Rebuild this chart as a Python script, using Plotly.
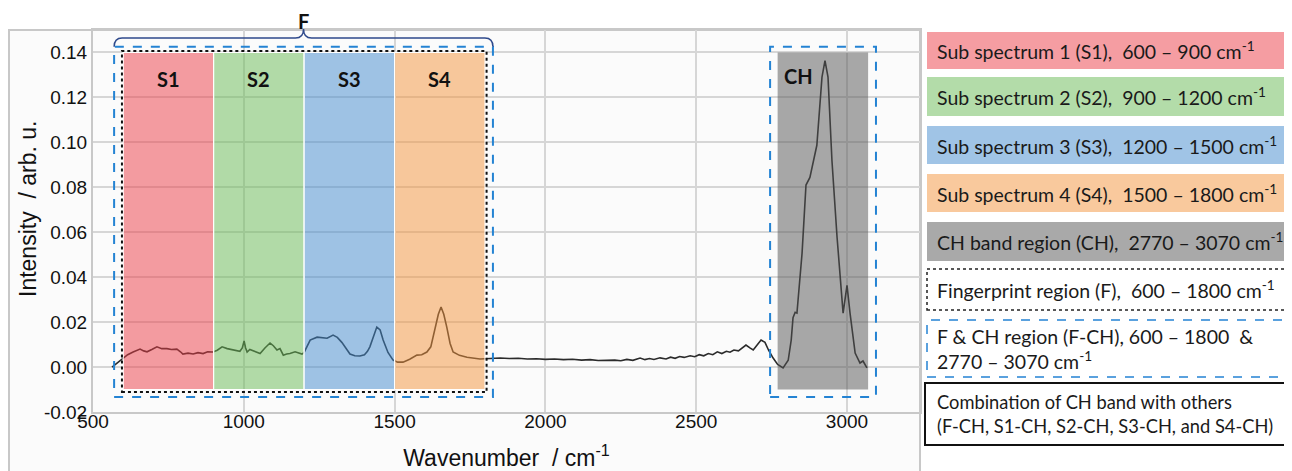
import plotly.graph_objects as go

# ---------------- data ----------------
wavenumber = [563, 573, 585, 600, 615, 633, 645, 656, 668, 679,
              695, 712, 728, 745, 760, 778, 790, 798, 815, 832,
              848, 865, 880, 898, 912, 928, 945, 964, 987, 995,
              1001, 1006, 1011, 1020, 1031, 1042, 1054, 1070, 1087, 1098,
              1110, 1120, 1131, 1142, 1153, 1170, 1193, 1200, 1210, 1220,
              1243, 1260, 1276, 1296, 1310, 1325, 1340, 1352, 1368, 1385,
              1400, 1410, 1418, 1430, 1441, 1452, 1462, 1478, 1495, 1510,
              1528, 1550, 1574, 1590, 1607, 1620, 1634, 1645, 1654, 1663,
              1673, 1684, 1694, 1715, 1740, 1760, 1783, 1800, 1826,
              1850, 1880, 1910, 1940, 1970, 2000, 2030, 2060, 2090, 2120,
              2148, 2175, 2204, 2230, 2250, 2270, 2290, 2314, 2330, 2345,
              2360, 2380, 2400, 2415, 2430, 2445, 2460, 2480, 2495, 2510,
              2525, 2540, 2555, 2570, 2585, 2600, 2612, 2625, 2640, 2652,
              2665, 2678, 2689, 2700, 2715, 2728,
              2740, 2755, 2770, 2788, 2805, 2815, 2821, 2828, 2834, 2851,
              2864, 2877, 2900, 2917, 2927, 2937, 2950, 2967, 2987, 3000,
              3010, 3027, 3043, 3053, 3066]
intensity = [0.000, 0.001, 0.0025, 0.004, 0.0055, 0.0067, 0.0075, 0.008, 0.0072, 0.0068,
             0.0078, 0.009, 0.0082, 0.0082, 0.0078, 0.008, 0.0068, 0.0058, 0.0062, 0.0058,
             0.0064, 0.006, 0.0068, 0.0067, 0.0075, 0.009, 0.0082, 0.0078, 0.007, 0.0085,
             0.0116, 0.0085, 0.0067, 0.0078, 0.0072, 0.0065, 0.006, 0.0085, 0.0107, 0.0095,
             0.0076, 0.0082, 0.0053, 0.0058, 0.006, 0.0068, 0.0058, 0.0065, 0.0095, 0.012,
             0.0133, 0.013, 0.0128, 0.0142, 0.0132, 0.011, 0.0078, 0.0058, 0.005, 0.0049,
             0.0055, 0.007, 0.009, 0.0135, 0.0178, 0.0165, 0.012, 0.0065, 0.0031, 0.0022,
             0.0022, 0.0035, 0.0053, 0.0055, 0.0067, 0.009, 0.0164, 0.0235, 0.0267, 0.0235,
             0.0178, 0.0105, 0.0067, 0.0052, 0.0044, 0.004, 0.0036, 0.0037, 0.004,
             0.0040, 0.0038, 0.0039, 0.0036, 0.0037, 0.0034, 0.0036, 0.0033, 0.0035, 0.0031,
             0.0033, 0.0029, 0.0031, 0.0031, 0.0028, 0.0034, 0.0030, 0.0040, 0.0033, 0.0038,
             0.0034, 0.0041, 0.0036, 0.0044, 0.0039, 0.0047, 0.0043, 0.0050, 0.0046, 0.0055,
             0.0050, 0.0060, 0.0055, 0.0068, 0.0060, 0.0070, 0.0066, 0.0076, 0.0072, 0.0085,
             0.0098, 0.0085, 0.0076, 0.0095, 0.012, 0.011,
             0.0075, 0.004, 0.0012, -0.0004, 0.003, 0.012, 0.022, 0.0244, 0.024, 0.0507,
             0.081, 0.0844, 0.0987, 0.129, 0.1364, 0.129, 0.092, 0.0578, 0.024, 0.0364,
             0.024, 0.0062, 0.0018, 0.0027, -0.0004]

sub_names = ["S1", "S2", "S3", "S4"]
sub_starts = [600, 900, 1200, 1500]
sub_ends = [900, 1200, 1500, 1800]
ch_start, ch_end = 2770, 3070
fp_start, fp_end = 600, 1800
region_top, region_bottom = 0.14, -0.01

x_tickvals = [500, 1000, 1500, 2000, 2500, 3000]
y_tickvals = [-0.02, 0.00, 0.02, 0.04, 0.06, 0.08, 0.10, 0.12, 0.14]
y_ticktext = ["-0.02", "0.00", "0.02", "0.04", "0.06", "0.08", "0.10", "0.12", "0.14"]

legend_texts = [
    "Sub spectrum 1 (S1),\u00a0 600 – 900 cm<sup>-1</sup>",
    "Sub spectrum 2 (S2),\u00a0 900 – 1200 cm<sup>-1</sup>",
    "Sub spectrum 3 (S3),\u00a0 1200 – 1500 cm<sup>-1</sup>",
    "Sub spectrum 4 (S4),\u00a0 1500 – 1800 cm<sup>-1</sup>",
    "CH band region (CH),\u00a0 2770 – 3070 cm<sup>-1</sup>",
    "Fingerprint region (F),\u00a0 600 – 1800 cm<sup>-1</sup>",
    "F & CH region (F-CH), 600 – 1800 \u00a0&<br>2770 – 3070 cm<sup>-1</sup>",
    "Combination of CH band with others<br>(F-CH, S1-CH, S2-CH, S3-CH, and S4-CH)",
]

# ---------------- style ----------------
sub_fill = ["rgba(235,59,69,0.5)", "rgba(103,185,83,0.5)", "rgba(65,137,205,0.5)", "rgba(243,147,59,0.5)"]
ch_fill = "rgba(83,83,83,0.5)"
legend_fill = ["#f59da2", "#b3dca9", "#a0c4e6", "#f9c99d", "#a9a9a9", "white", "white", "white"]
legend_size = [19.5, 19.5, 19.5, 19.5, 19.5, 19.5, 19.5, 18.3]
blue = "#2483d3"

OFF = 8                          # browser body margin
W, H = 1292 - OFF, 471 - OFF
L, R, T, B = 93, 920, 30, 412    # plot area in reference pixels
XMIN, XMAX = 500, 3242
YMIN, YMAX = -0.02, 0.15


def px_x(p):
    return (p - L) / (R - L)


def px_y(p):
    return (B - p) / (B - T)


def dx(w):
    return (w - XMIN) / (XMAX - XMIN)


def dy(v):
    return (v - YMIN) / (YMAX - YMIN)


fig = go.Figure()
fig.add_trace(go.Scatter(x=wavenumber, y=intensity, mode="lines",
                         line=dict(color="#2b2b2b", width=1.6), showlegend=False, hoverinfo="skip"))

shapes = []
# outer frame of chart
shapes.append(dict(type="rect", xref="paper", yref="paper", x0=px_x(9), x1=1.0, y0=-0.4, y1=1.0,
                   line=dict(color="#c8c8c8", width=2), fillcolor="#fbfbfb", layer="below"))
# sub spectrum regions
for s0, s1, fc in zip(sub_starts, sub_ends, sub_fill):
    shapes.append(dict(type="rect", xref="x", yref="y", x0=s0, x1=s1, y0=region_bottom, y1=region_top,
                       fillcolor=fc, line=dict(color="white", width=1.2), layer="above"))
shapes.append(dict(type="rect", xref="x", yref="y", x0=ch_start, x1=ch_end, y0=region_bottom, y1=region_top,
                   fillcolor=ch_fill, line=dict(width=0), layer="above"))
# fingerprint dotted box
shapes.append(dict(type="rect", xref="x", yref="y", x0=fp_start - 4, x1=fp_end + 5, y0=region_bottom - 0.0011,
                   y1=region_top + 0.0007, line=dict(color="#111", width=2, dash="dot"), layer="above"))
# F-CH dashed boxes
shapes.append(dict(type="rect", xref="x", yref="y", x0=fp_start - 30, x1=fp_end + 26, y0=region_bottom - 0.0033,
                   y1=region_top + 0.0025, line=dict(color=blue, width=2, dash="dash"), layer="above"))
shapes.append(dict(type="rect", xref="x", yref="y", x0=ch_start - 25, x1=ch_end + 26, y0=region_bottom - 0.0033,
                   y1=region_top + 0.0025, line=dict(color=blue, width=2, dash="dash"), layer="above"))

# brace above F region
bx0, bx1 = dx(fp_start - 30), dx(fp_end + 26)
bxm = (bx0 + bx1) / 2
by_end = dy(region_top + 0.0025)
by_mid = px_y(38)
by_tip = px_y(29)
d = 8 / (R - L)
path = (f"M {bx0},{by_end} Q {bx0},{by_mid} {bx0 + d},{by_mid} L {bxm - d},{by_mid} "
        f"Q {bxm},{by_mid} {bxm},{by_tip} Q {bxm},{by_mid} {bxm + d},{by_mid} "
        f"L {bx1 - d},{by_mid} Q {bx1},{by_mid} {bx1},{by_end}")
shapes.append(dict(type="path", xref="paper", yref="paper", path=path,
                   line=dict(color="#2f4a8c", width=1.5), layer="above"))

# legend boxes (right side)
box_y = [(32, 69), (77, 116), (126, 164), (174, 212), (222, 261), (269, 310), (320, 377), (383, 445)]
box_line = [None, None, None, None, None,
            dict(color="#222", width=1.5, dash="dot"),
            dict(color=blue, width=1.5, dash="dash"),
            dict(color="#111", width=2)]
for i, ((t, b), fc, ln) in enumerate(zip(box_y, legend_fill, box_line)):
    x0 = px_x(925 if i == 7 else 927)
    x1 = px_x(1289 if i == 7 else 1310)
    shapes.append(dict(type="rect", xref="paper", yref="paper", x0=x0, x1=x1, y0=px_y(b), y1=px_y(t),
                       fillcolor=fc, line=ln if ln else dict(width=0), layer="above"))

annotations = []
label_font = dict(family="Lato, Carlito, sans-serif", size=20, color="#111")
for name, s0, s1 in zip(sub_names, sub_starts, sub_ends):
    annotations.append(dict(x=(s0 + s1) / 2, y=0.1283, xref="x", yref="y", text=f"<b>{name}</b>",
                            showarrow=False, font=label_font, yanchor="middle"))
annotations.append(dict(x=2785, y=0.1295, xref="x", yref="y", text="<b>CH</b>", showarrow=False,
                        xanchor="left", yanchor="middle", font=label_font))
annotations.append(dict(x=bxm, y=px_y(20.5), xref="paper", yref="paper", text="<b>F</b>", showarrow=False,
                        xanchor="center", yanchor="middle", font=label_font))
for (t, b), txt, fs in zip(box_y, legend_texts, legend_size):
    annotations.append(dict(x=px_x(935), y=px_y((t + b) / 2), xref="paper", yref="paper", text=txt,
                            showarrow=False, xanchor="left", yanchor="middle", align="left",
                            font=dict(family="Lato, Carlito, sans-serif", size=fs, color="#1a1a1a")))
# y-axis title as annotation (in the reference it sits a bit above the axis centre)
title_font = dict(family="Liberation Sans, Arial, sans-serif", size=23, color="#111")
annotations.append(dict(x=px_x(28), y=px_y(209), xref="paper", yref="paper",
                        text="Intensity\u00a0 / arb. u.", textangle=-90, showarrow=False,
                        xanchor="center", yanchor="middle", font=title_font))

axis_font = dict(family="Liberation Sans, Arial, sans-serif", size=19, color="#111")
fig.update_layout(
    width=W, height=H, autosize=False,
    margin=dict(l=L - OFF, r=W - (R - OFF), t=T - OFF, b=H - (B - OFF), pad=0, autoexpand=False),
    paper_bgcolor="white", plot_bgcolor="white",
    shapes=shapes, annotations=annotations, showlegend=False,
    xaxis=dict(range=[XMIN, XMAX], tickvals=x_tickvals, showgrid=True, gridcolor="#d6d6d6", gridwidth=1.5,
               showline=True, linecolor="#c8c8c8", linewidth=2, mirror=True, zeroline=False, ticks="",
               tickfont=axis_font, automargin=False, ticklabelstandoff=-9,
               title=dict(text="Wavenumber\u00a0 / cm<sup>-1</sup>", standoff=19, font=title_font)),
    yaxis=dict(range=[YMIN, YMAX], tickvals=y_tickvals, ticktext=y_ticktext, showgrid=True,
               gridcolor="#d6d6d6", gridwidth=1.5, automargin=False,
               showline=True, linecolor="#c8c8c8", linewidth=2, mirror=True, zeroline=False, ticks="",
               tickfont=axis_font),
)

fig.write_html("out.html")
